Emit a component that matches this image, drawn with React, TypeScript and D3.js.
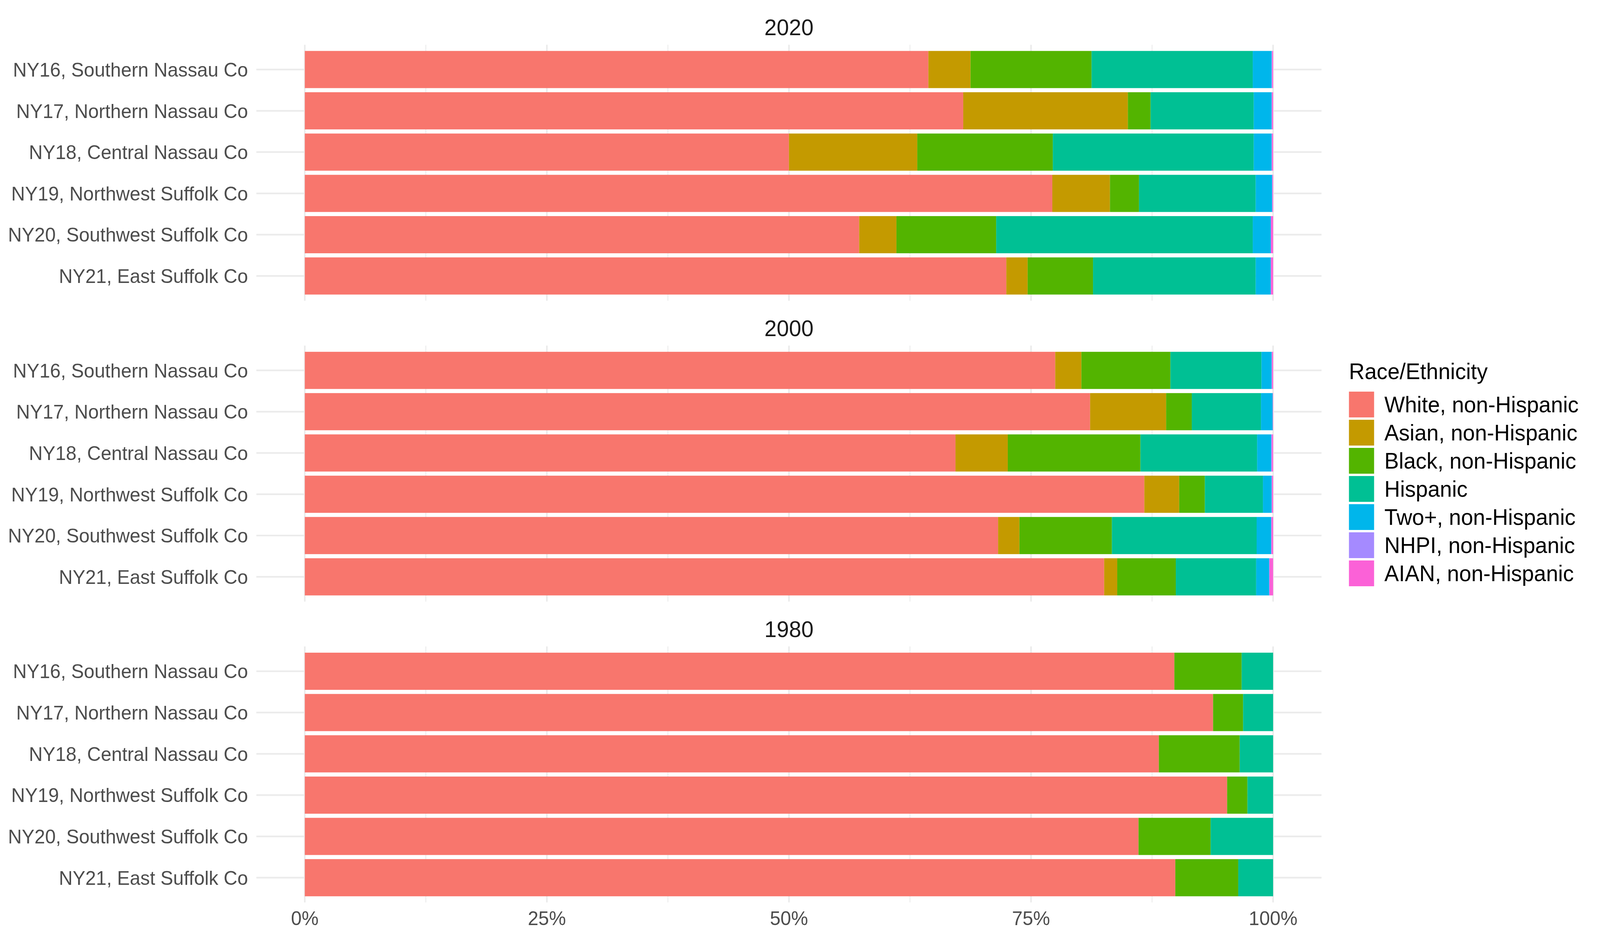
import React from "react";
import * as d3 from "d3";

const districts = [
  "NY16, Southern Nassau Co",
  "NY17, Northern Nassau Co",
  "NY18, Central Nassau Co",
  "NY19, Northwest Suffolk Co",
  "NY20, Southwest Suffolk Co",
  "NY21, East Suffolk Co",
];

const races = [
  "White, non-Hispanic",
  "Asian, non-Hispanic",
  "Black, non-Hispanic",
  "Hispanic",
  "Two+, non-Hispanic",
  "NHPI, non-Hispanic",
  "AIAN, non-Hispanic",
];

const raceColors = ["#F8766D", "#C49A00", "#53B400", "#00C094", "#00B6EB", "#A58AFF", "#FB61D7"];

const years = ["2020", "2000", "1980"];

// 2020 shares (%), by district
const white2020 = [64.4, 68.0, 50.0, 77.2, 57.25, 72.45];
const asian2020 = [4.35, 17.0, 13.25, 5.95, 3.85, 2.2];
const black2020 = [12.5, 2.35, 14.0, 3.0, 10.3, 6.75];
const hispanic2020 = [16.65, 10.65, 20.75, 12.05, 26.5, 16.8];
const two2020 = [1.95, 1.85, 1.85, 1.7, 1.85, 1.55];
const nhpi2020 = [0.05, 0.03, 0.03, 0.03, 0.04, 0.03];
const aian2020 = [0.1, 0.12, 0.12, 0.07, 0.21, 0.22];

// 2000 shares (%)
const white2000 = [77.5, 81.1, 67.2, 86.7, 71.6, 82.55];
const asian2000 = [2.7, 7.85, 5.4, 3.6, 2.2, 1.35];
const black2000 = [9.2, 2.65, 13.7, 2.65, 9.55, 6.05];
const hispanic2000 = [9.4, 7.15, 12.05, 6.0, 14.95, 8.3];
const two2000 = [1.05, 1.2, 1.45, 0.9, 1.5, 1.35];
const nhpi2000 = [0.03, 0.02, 0.08, 0.03, 0.04, 0.03];
const aian2000 = [0.12, 0.03, 0.12, 0.12, 0.16, 0.37];

// 1980 shares (%)
const white1980 = [89.8, 93.8, 88.2, 95.25, 86.1, 89.9];
const asian1980 = [0, 0, 0, 0, 0, 0];
const black1980 = [6.95, 3.1, 8.35, 2.1, 7.45, 6.5];
const hispanic1980 = [3.25, 3.1, 3.45, 2.65, 6.45, 3.6];
const two1980 = [0, 0, 0, 0, 0, 0];
const nhpi1980 = [0, 0, 0, 0, 0, 0];
const aian1980 = [0, 0, 0, 0, 0, 0];

const xTicks = [0, 0.25, 0.5, 0.75, 1];
const xTickLabels = ["0%", "25%", "50%", "75%", "100%"];
const xMinor = [0.125, 0.375, 0.625, 0.875];

const seriesByYear: Record<string, number[][]> = {
  "2020": [white2020, asian2020, black2020, hispanic2020, two2020, nhpi2020, aian2020],
  "2000": [white2000, asian2000, black2000, hispanic2000, two2000, nhpi2000, aian2000],
  "1980": [white1980, asian1980, black1980, hispanic1980, two1980, nhpi1980, aian1980],
};

const W = 4200;
const H = 2400;
const FONT = "'Liberation Sans', Arial, Helvetica, sans-serif";
const panelLeft = 673;
const panelRight = 3469;
const panelTop0 = 114.5;
const panelPitch = 769.8;
const panelH = 655;

const x = d3.scaleLinear().domain([-0.05, 1.05]).range([panelLeft, panelRight]);

function buildRows(year: string) {
  const s = seriesByYear[year];
  return districts.map((d, i) => {
    const row: any = { district: d };
    races.forEach((r, j) => (row[r] = s[j][i] / 100));
    return row;
  });
}

function Panel({ year, top }: { year: string; top: number }) {
  const y = d3
    .scaleBand<string>()
    .domain(districts)
    .range([top, top + panelH])
    .paddingInner(0.1)
    .paddingOuter(0.15);
  const stack = d3.stack<any>().keys(races);
  const layers = stack(buildRows(year));
  return (
    <g>
      {xMinor.map((t) => (
        <line key={"mn" + t} x1={x(t)} x2={x(t)} y1={top} y2={top + panelH} stroke="#EBEBEB" strokeWidth={2.2} />
      ))}
      {xTicks.map((t) => (
        <line key={"mj" + t} x1={x(t)} x2={x(t)} y1={top} y2={top + panelH} stroke="#EBEBEB" strokeWidth={4.2} />
      ))}
      {districts.map((d) => (
        <line
          key={"h" + d}
          x1={panelLeft}
          x2={panelRight}
          y1={(y(d) as number) + y.bandwidth() / 2}
          y2={(y(d) as number) + y.bandwidth() / 2}
          stroke="#EBEBEB"
          strokeWidth={4.2}
        />
      ))}
      {layers.map((layer, j) => (
        <g key={races[j]} fill={raceColors[j]}>
          {layer.map((seg, i) => {
            const w = x(seg[1]) - x(seg[0]);
            if (w <= 0) return null;
            return (
              <rect
                key={i}
                x={x(seg[0])}
                y={y(districts[i]) as number}
                width={w}
                height={y.bandwidth()}
              />
            );
          })}
        </g>
      ))}
      {districts.map((d) => (
        <text
          key={"l" + d}
          x={651}
          y={(y(d) as number) + y.bandwidth() / 2 + 18}
          textAnchor="end"
          fontSize={50}
          fill="#4D4D4D"
          fontFamily={FONT}
        >
          {d}
        </text>
      ))}
      <text
        x={(panelLeft + panelRight) / 2}
        y={top - 24}
        textAnchor="middle"
        fontSize={58}
        fill="#1A1A1A"
        fontFamily={FONT}
      >
        {year}
      </text>
    </g>
  );
}

export default function App() {
  const lastTop = panelTop0 + panelPitch * (years.length - 1);
  return (
    <svg
      viewBox={`0 0 ${W} ${H}`}
      preserveAspectRatio="none"
      style={{ position: "fixed", left: 0, top: 0, width: "100vw", height: "100vh", display: "block", background: "#FFFFFF" }}
    >
      <rect x={0} y={0} width={W} height={H} fill="#FFFFFF" />
      {years.map((yr, k) => (
        <Panel key={yr} year={yr} top={panelTop0 + panelPitch * k} />
      ))}
      {xTicks.map((t, i) => (
        <text
          key={"xt" + t}
          x={x(t)}
          y={lastTop + panelH + 57.5}
          textAnchor="middle"
          fontSize={50}
          fill="#4D4D4D"
          fontFamily={FONT}
        >
          {xTickLabels[i]}
        </text>
      ))}
      <g>
        <text x={3541} y={970.5} fontSize={57} fill="#000000" fontFamily={FONT}>
          Race/Ethnicity
        </text>
        {races.map((r, i) => (
          <g key={r}>
            <rect x={3541} y={1002 + i * 72} width={66} height={66} fill={raceColors[i]} />
            <text x={3634} y={1002 + i * 72 + 33 + 20.5} fontSize={57} fill="#000000" fontFamily={FONT}>
              {r}
            </text>
          </g>
        ))}
      </g>
    </svg>
  );
}
